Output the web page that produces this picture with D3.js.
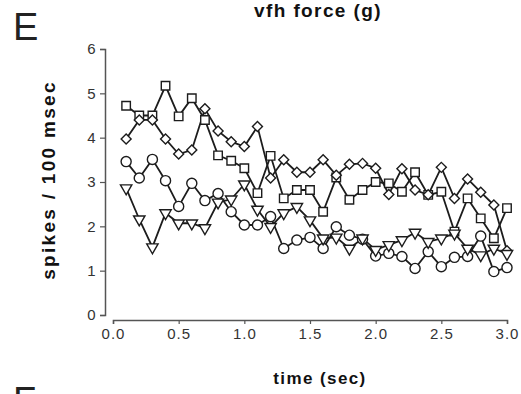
<!DOCTYPE html>
<html>
<head>
<meta charset="utf-8">
<script src="https://cdn.jsdelivr.net/npm/d3@7"></script>
<style>
  body { margin: 0; background: #fff; }
  svg { display: block; font-family: "Liberation Sans", Arial, sans-serif; }
</style>
</head>
<body>
<div id="chart"></div>
<script>
// time points, 0.1 s bins
const times = d3.range(1, 31).map(i => i / 10);

const squares = [4.72, 4.5, 4.5, 5.17, 4.48, 4.89, 4.4, 3.6, 3.48, 3.31,
  2.75, 3.59, 2.63, 2.82, 2.82, 2.33, 3.1, 2.6, 2.82, 3.0,
  2.97, 2.78, 3.22, 2.71, 2.78, 1.88, 2.63, 2.18, 1.73, 2.41];
const diamonds = [3.97, 4.4, 4.4, 3.97, 3.63, 3.72, 4.65, 4.15, 3.91, 3.8,
  4.25, 3.09, 3.5, 3.22, 3.22, 3.5, 3.15, 3.4, 3.42, 3.31,
  2.72, 3.3, 2.82, 2.71, 3.33, 2.63, 3.07, 2.77, 2.48, 1.45];
const circles = [3.46, 3.09, 3.51, 3.03, 2.45, 2.97, 2.58, 2.74, 2.33, 2.03,
  2.03, 2.22, 1.5, 1.69, 1.75, 1.5, 1.99, 1.8, 1.71, 1.33,
  1.39, 1.32, 1.05, 1.43, 1.09, 1.3, 1.32, 1.78, 0.98, 1.07];
const triangles = [2.86, 2.16, 1.53, 2.3, 2.07, 2.07, 1.96, 2.54, 2.61, 2.95,
  2.38, 1.99, 2.3, 2.44, 2.14, 1.73, 1.75, 1.5, 1.73, 1.47,
  1.58, 1.69, 1.86, 1.65, 1.73, 1.84, 1.5, 1.35, 1.5, 1.38];

const xTicks = [0, 0.5, 1, 1.5, 2, 2.5, 3];
const yTicks = [0, 1, 2, 3, 4, 5, 6];

const series = [
  { name: 'squares', values: squares, symbol: d3.symbolSquare, size: 72 },
  { name: 'diamonds', values: diamonds, symbol: d3.symbolSquare, size: 50, rotate: 45 },
  { name: 'circles', values: circles, symbol: d3.symbolCircle, size: 80 },
  { name: 'triangles', values: triangles, symbol: d3.symbolTriangle, size: 56, rotate: 180 }
];

const width = 521, height = 394;
const ink = '#1c1c1c';

const svg = d3.select('#chart').append('svg')
  .attr('width', width).attr('height', height);

const x = d3.scaleLinear().domain([0, 3]).range([113, 507]);
const y = d3.scaleLinear().domain([0, 6]).range([315, 49]);

// x axis (detached below the plot)
const xAxis = svg.append('g')
  .attr('transform', 'translate(0,320)')
  .call(d3.axisBottom(x).tickValues(xTicks).tickFormat(d3.format('.1f')).tickSizeOuter(0).tickSize(4));

// y axis
const yAxis = svg.append('g')
  .attr('transform', 'translate(105,0)')
  .call(d3.axisLeft(y).tickValues(yTicks).tickFormat(d3.format('d')).tickSizeOuter(0).tickSize(5));

[xAxis, yAxis].forEach(g => {
  g.select('.domain').attr('stroke', '#555').attr('stroke-width', 1.5);
  g.selectAll('.tick line').attr('stroke', '#555').attr('stroke-width', 1.2);
  g.selectAll('.tick text').attr('fill', '#333').attr('font-size', 15)
    .attr('font-family', '"Liberation Sans", Arial, sans-serif');
});
xAxis.selectAll('.tick text').attr('dy', '0.8em').attr('letter-spacing', 1);
yAxis.selectAll('.tick text').attr('dx', '-0.1em');

const line = d3.line()
  .x((d, i) => x(times[i]))
  .y(d => y(d));

series.forEach(s => {
  svg.append('path')
    .datum(s.values)
    .attr('fill', 'none')
    .attr('stroke', ink)
    .attr('stroke-width', 1.8)
    .attr('d', line);
});

series.forEach(s => {
  const sym = d3.symbol().type(s.symbol).size(s.size);
  svg.append('g').selectAll('path')
    .data(s.values)
    .enter().append('path')
    .attr('d', sym)
    .attr('transform', (d, i) => 'translate(' + x(times[i]) + ',' + y(d) + ')' + (s.rotate ? ' rotate(' + s.rotate + ')' : ''))
    .attr('fill', '#fff')
    .attr('stroke', ink)
    .attr('stroke-width', 1.4);
});

// titles
svg.append('text')
  .attr('x', 318).attr('y', 17)
  .attr('text-anchor', 'middle')
  .attr('font-weight', 'bold').attr('font-size', 19).attr('letter-spacing', 1.4).attr('fill', '#111')
  .text('vfh force (g)');

svg.append('text')
  .attr('x', 13).attr('y', 40)
  .attr('font-size', 38).attr('fill', '#222')
  .text('E');

svg.append('text')
  .attr('x', 13).attr('y', 414)
  .attr('font-size', 38).attr('fill', '#222')
  .text('F');

svg.append('text')
  .attr('transform', 'translate(55,180) rotate(-90)')
  .attr('text-anchor', 'middle')
  .attr('font-weight', 'bold').attr('font-size', 19).attr('letter-spacing', 2.3).attr('fill', '#111')
  .text('spikes / 100 msec');

svg.append('text')
  .attr('x', 320).attr('y', 384)
  .attr('text-anchor', 'middle')
  .attr('font-weight', 'bold').attr('font-size', 17).attr('letter-spacing', 1.4).attr('fill', '#111')
  .text('time (sec)');
</script>
</body>
</html>
